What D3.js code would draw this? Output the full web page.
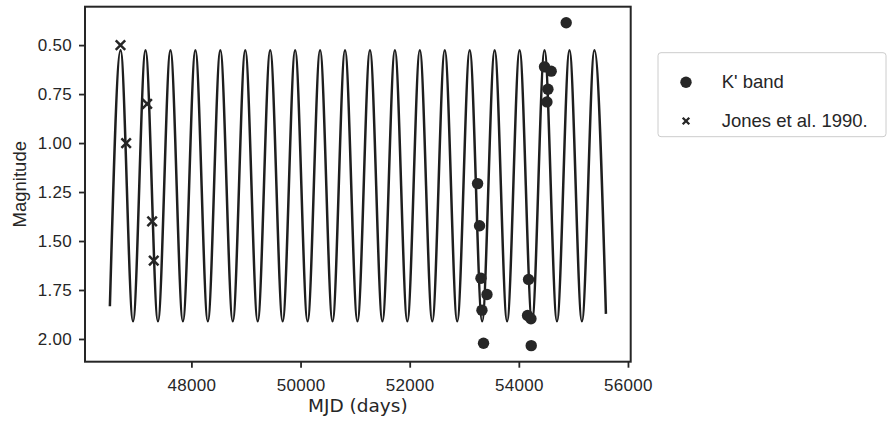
<!DOCTYPE html>
<html>
<head>
<meta charset="utf-8">
<script src="https://cdn.jsdelivr.net/npm/d3@7"></script>
<style>
  html, body { margin: 0; padding: 0; background: #fff; }
  svg { display: block; }
  .tick-label { font-family: "Liberation Sans", Arial, sans-serif; font-size: 17px; fill: #262626; letter-spacing: 0.3px; }
  .axis-label { font-family: "Liberation Sans", Arial, sans-serif; font-size: 18.5px; fill: #262626; }
  .x-label { font-family: "DejaVu Sans", sans-serif; font-size: 18.5px; fill: #262626; }
  .legend-text { font-family: "Liberation Sans", Arial, sans-serif; font-size: 18.5px; fill: #262626; }
</style>
</head>
<body>
<div id="chart"></div>
<script>
// K' band photometry (MJD, magnitude)
const kBandMjd = [53244, 53280, 53306, 53416, 53324, 53353, 54178, 54160, 54222, 54227, 54868, 54471, 54593, 54533, 54515];
const kBandMag = [1.207, 1.422, 1.690, 1.773, 1.853, 2.022, 1.696, 1.880, 1.897, 2.034, 0.386, 0.611, 0.633, 0.725, 0.790];

// Jones et al. 1990
const jonesMjd = [46700, 46804, 47189, 47280, 47310];
const jonesMag = [0.50, 1.00, 0.80, 1.40, 1.60];

const curvePeakMjd = [46702, 47159, 47616, 48073, 48530, 48987, 49444, 49901, 50358, 50815,
                      51272, 51729, 52186, 52643, 53100, 53557, 54014, 54471, 54928, 55385];
const curveTroughMjd = [46930, 47387, 47844, 48301, 48758, 49215, 49672, 50129, 50586, 51043,
                        51500, 51957, 52414, 52871, 53328, 53785, 54242, 54699, 55156];
const curvePeakMag = 0.526;
const curveTroughMag = 1.91;
const curveStart = [46506, 1.833];
const curveEnd = [55596, 1.872];

const xTickValues = [48000, 50000, 52000, 54000, 56000];
const yTickValues = [0.50, 0.75, 1.00, 1.25, 1.50, 1.75, 2.00];
const legendLabels = ["K' band", "Jones et al. 1990."];

class LightCurveChart {
    constructor(_config) {
        this.config = {
            parentElement: _config.parentElement,
            svgWidth: _config.svgWidth || 888,
            svgHeight: _config.svgHeight || 422
        };
        this.initVis();
    }

    margin = {top: 6.7, right: 257.3, bottom: 60.3, left: 85};
    ink = '#262626';

    initVis() {
        const vis = this;

        vis.svg = d3.select(vis.config.parentElement).append('svg')
            .attr('width', vis.config.svgWidth)
            .attr('height', vis.config.svgHeight);

        vis.chartWidth = vis.config.svgWidth - vis.margin.left - vis.margin.right;
        vis.chartHeight = vis.config.svgHeight - vis.margin.top - vis.margin.bottom;

        vis.chart = vis.svg.append('g')
            .attr('transform', `translate(${vis.margin.left}, ${vis.margin.top})`);

        vis.xScale = d3.scaleLinear()
            .domain([46050, 56050])
            .range([0, vis.chartWidth]);

        // magnitudes: brighter at the top
        vis.yScale = d3.scaleLinear()
            .domain([0.304, 2.116])
            .range([0, vis.chartHeight]);

        vis.renderVis();
    }

    renderVis() {
        const vis = this;

        // model curve
        const curvePoints = [curveStart]
            .concat(curvePeakMjd.map(d => [d, curvePeakMag]))
            .concat(curveTroughMjd.map(d => [d, curveTroughMag]))
            .concat([curveEnd])
            .sort((a, b) => a[0] - b[0]);

        const lineGenerator = d3.line()
            .x(d => vis.xScale(d[0]))
            .y(d => vis.yScale(d[1]))
            .curve(d3.curveMonotoneX);

        vis.chart.append('path')
            .datum(curvePoints)
            .attr('d', lineGenerator)
            .attr('fill', 'none')
            .attr('stroke', '#1e1e1e')
            .attr('stroke-width', 2.5);

        // Jones crosses
        const cross = d3.symbol().type(d3.symbolX).size(60);
        vis.chart.selectAll('.jones').data(jonesMjd)
            .enter().append('path')
            .attr('class', 'jones')
            .attr('d', cross)
            .attr('transform', (d, i) => `translate(${vis.xScale(d)}, ${vis.yScale(jonesMag[i])})`)
            .attr('fill', 'none')
            .attr('stroke', vis.ink)
            .attr('stroke-width', 2.5);

        // K' band points
        vis.chart.selectAll('.kband').data(kBandMjd)
            .enter().append('circle')
            .attr('class', 'kband')
            .attr('cx', d => vis.xScale(d))
            .attr('cy', (d, i) => vis.yScale(kBandMag[i]))
            .attr('r', 5.7)
            .attr('fill', vis.ink);

        // Axes
        const xAxis = d3.axisBottom(vis.xScale)
            .tickValues(xTickValues)
            .tickFormat(d3.format('d'))
            .tickSize(6)
            .tickPadding(7);

        const yAxis = d3.axisLeft(vis.yScale)
            .tickValues(yTickValues)
            .tickFormat(d3.format('.2f'))
            .tickSize(6)
            .tickPadding(7);

        const xAxisGroup = vis.chart.append('g')
            .attr('transform', `translate(0, ${vis.chartHeight})`)
            .call(xAxis);
        const yAxisGroup = vis.chart.append('g').call(yAxis);

        [xAxisGroup, yAxisGroup].forEach(g => {
            g.select('.domain').remove();
            g.selectAll('.tick line').attr('stroke', vis.ink).attr('stroke-width', 1.8);
            g.selectAll('.tick text')
                .attr('class', 'tick-label')
                .attr('font-family', null)
                .attr('font-size', null)
                .attr('fill', null);
        });
        xAxisGroup.selectAll('.tick text').attr('dy', '0.95em');

        // frame
        vis.chart.append('rect')
            .attr('width', vis.chartWidth)
            .attr('height', vis.chartHeight)
            .attr('fill', 'none')
            .attr('stroke', vis.ink)
            .attr('stroke-width', 2);

        // labels
        vis.svg.append('text')
            .attr('class', 'x-label')
            .attr('text-anchor', 'middle')
            .attr('x', vis.margin.left + vis.chartWidth / 2)
            .attr('y', 412)
            .text('MJD (days)');

        vis.svg.append('text')
            .attr('class', 'axis-label')
            .attr('text-anchor', 'middle')
            .attr('transform', `translate(26, ${vis.margin.top + vis.chartHeight / 2}) rotate(-90)`)
            .text('Magnitude');

        // legend
        const legend = vis.svg.append('g').attr('transform', 'translate(658, 52.7)');
        legend.append('rect')
            .attr('width', 228)
            .attr('height', 84)
            .attr('rx', 3)
            .attr('fill', '#fff')
            .attr('stroke', '#cccccc')
            .attr('stroke-width', 1);

        legend.append('circle')
            .attr('cx', 28).attr('cy', 29.6).attr('r', 5.7)
            .attr('fill', vis.ink);
        legend.append('path')
            .attr('d', d3.symbol().type(d3.symbolX).size(30)())
            .attr('transform', 'translate(28, 68.3)')
            .attr('fill', 'none')
            .attr('stroke', vis.ink)
            .attr('stroke-width', 2.3);

        legend.selectAll('.legend-text').data(legendLabels)
            .enter().append('text')
            .attr('class', 'legend-text')
            .attr('x', 63.7)
            .attr('y', (d, i) => 35.5 + i * 38.7)
            .text(d => d);
    }
}

const chart = new LightCurveChart({parentElement: '#chart'});
</script>
</body>
</html>
